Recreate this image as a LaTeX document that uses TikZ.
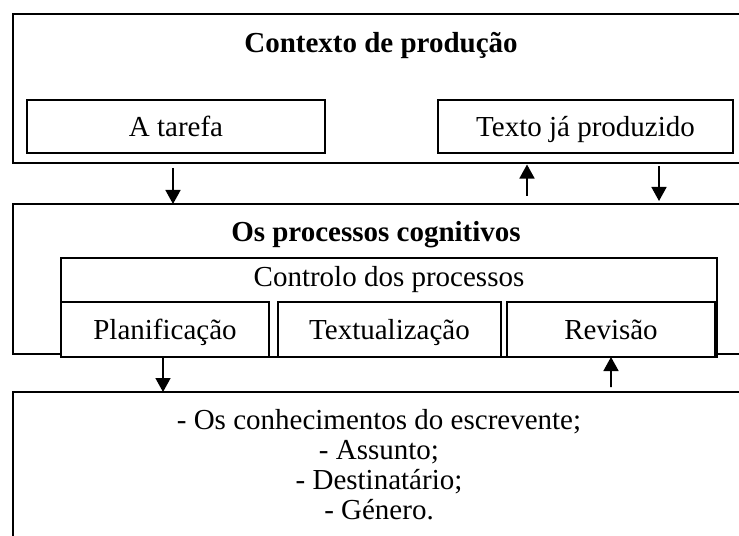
\documentclass[tikz,border=0pt]{standalone}
\usepackage{fontspec}
\setmainfont{Liberation Serif}
\usetikzlibrary{arrows.meta}
\begin{document}
\begin{tikzpicture}[x=1bp,y=-1bp,
  txt/.style={font=\fontsize{29bp}{30bp}\selectfont,inner sep=0pt,outer sep=0pt},
  ttl/.style={font=\fontsize{29bp}{30bp}\selectfont\bfseries,anchor=base,inner sep=0pt},
  outer/.style={draw,line width=2bp,minimum width=732bp,anchor=north west,inner sep=0pt,outer sep=0pt},
  inbox/.style={draw,line width=1.6bp,fill=white,anchor=north west,inner sep=0pt,outer sep=0pt,
    font=\fontsize{29bp}{30bp}\selectfont,text height=23bp,text depth=3bp},
  arr/.style={line width=1.6bp,-{Triangle[width=15bp,length=14bp]}}]
\useasboundingbox (0,0) rectangle (739,536);
\clip (0,0) rectangle (739,536);
\fill[white] (0,0) rectangle (739,536);
% outer frames
\node[outer,minimum height=149bp] (ctx) at (13,14) {};
\node[outer,minimum height=150bp] (proc) at (13,204) {};
\node[outer,minimum height=160bp] (know) at (13,392) {};
% context
\node[ttl] (ctxt) at (381,53) {Contexto de produção};
\node[inbox,minimum width=298bp,minimum height=53bp] (tarefa) at (27,100) {A tarefa};
\node[inbox,minimum width=295bp,minimum height=53bp] (texto) at (438,100) {Texto já produzido};
% processes
\node[ttl] (proct) at (376,242) {Os processos cognitivos};
\node[inbox,minimum width=656bp,minimum height=99bp] (ctrl) at (61,258) {};
\node[txt,anchor=base] (ctrlt) at (389,287) {Controlo dos processos};
\node[inbox,minimum width=208bp,minimum height=55bp] (plan) at (61,302) {Planificação};
\node[inbox,minimum width=223bp,minimum height=55bp] (textu) at (278,302) {Textualização};
\node[inbox,minimum width=208bp,minimum height=55bp] (rev) at (507,302) {Revisão};
% knowledge
\node[txt,anchor=base] (k1) at (379,429) {- Os conhecimentos do escrevente;};
\node[txt,anchor=base] (k2) at (379,459) {- Assunto;};
\node[txt,anchor=base] (k3) at (379,489) {- Destinatário;};
\node[txt,anchor=base] (k4) at (379,519) {- Género.};
% arrows
\coordinate (a1) at (173,168);
\draw[arr] (a1) -- (a1 |- proc.north);
\coordinate (a2) at (527,196);
\draw[arr,shorten >=1.5bp] (a2) -- (a2 |- ctx.south);
\coordinate (a3) at (659,166);
\coordinate (a3e) at (659,201);
\draw[arr] (a3) -- (a3e);
\coordinate (b1) at (163,357);
\draw[arr] (b1) -- (b1 |- know.north);
\coordinate (b2) at (611,387);
\draw[arr] (b2) -- (rev.south);
\end{tikzpicture}
\end{document}
